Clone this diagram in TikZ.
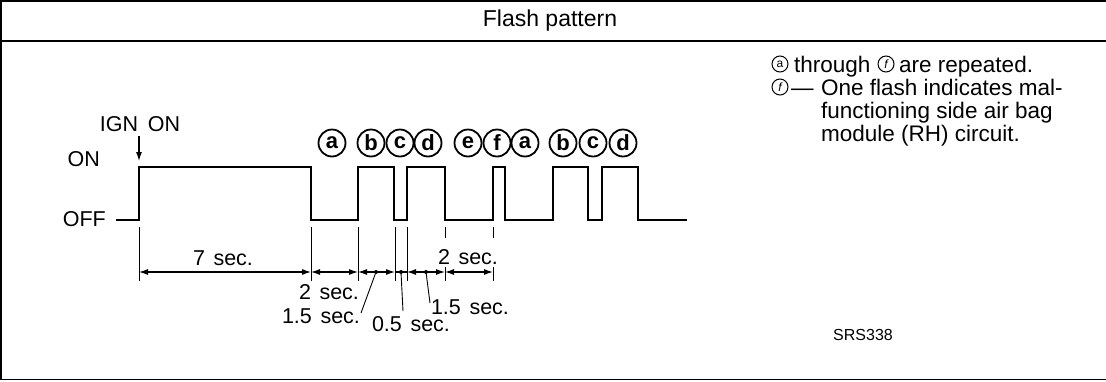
\documentclass[tikz,border=0pt]{standalone}
\usepackage{fontspec}
\setmainfont{Liberation Sans}
\usetikzlibrary{arrows.meta}
\begin{document}
\begin{tikzpicture}[x=1pt,y=-1pt,
  frame/.style={line width=1.6pt},
  wave/.style={line width=2.8pt,line join=miter},
  extline/.style={line width=0.9pt},
  dimline/.style={line width=1.1pt},
  dimarr/.style={dimline,{Latex[length=9pt,width=6pt]}-{Latex[length=9pt,width=6pt]}},
  leader/.style={line width=0.9pt},
  lbl/.style={font=\fontsize{21.5}{24}\selectfont,inner sep=0pt},
  txt/.style={font=\fontsize{22.5}{23}\selectfont,inner sep=0pt,anchor=base west},
  flag/.style={circle,draw,line width=1.8pt,minimum size=27pt,inner sep=0pt,font=\fontsize{22}{22}\selectfont\bfseries},
  sflag/.style={circle,draw,line width=1pt,minimum size=16pt,inner sep=0pt,font=\fontsize{12}{12}\selectfont},
  dot/.style={circle,fill,inner sep=0pt,minimum size=4pt}
]
\useasboundingbox (0,0) rectangle (1106,381);
% frame
\draw[frame] (0,0.8) -- (1106,0.8);
\draw[frame] (1,0) -- (1,379.5) -- (1106,379.5);
\draw[frame] (1,41) -- (1106,41);
\node[font=\fontsize{23}{24}\selectfont,inner sep=0pt] (title) at (550,21) {Flash pattern};

% level labels
\node[lbl,anchor=base east] (on) at (100,166) {ON};
\node[lbl,anchor=base east] (off) at (106,226) {OFF};

% IGN ON
\node[lbl,anchor=base] (ign) at (140,131) {IGN\hspace{0.45em}ON};
\coordinate (ignA) at (139,136);
\coordinate (ignB) at (139,161);
\draw[line width=1.1pt,-{Latex[length=9pt,width=6pt]}] (ignA) -- (ignB);

% waveform
\draw[wave] (116,220) -- (139,220) -- (139,167) -- (311,167) -- (311,220)
  -- (358,220) -- (358,167) -- (394,167) -- (394,220) -- (407,220) -- (407,167)
  -- (445,167) -- (445,220) -- (493,220) -- (493,167) -- (505,167) -- (505,220)
  -- (553,220) -- (553,167) -- (588,167) -- (588,220) -- (602,220) -- (602,167)
  -- (638,167) -- (638,220) -- (687,220);

% circled letters
\node[flag] (fa1) at (332,143) {a};
\node[flag] (fb1) at (371,143) {b};
\node[flag] (fc1) at (400,143) {c};
\node[flag] (fd1) at (428,143) {d};
\node[flag] (fe1) at (468,143) {e};
\node[flag] (ff1) at (497,143) {f};
\node[flag] (fa2) at (525,143) {a};
\node[flag] (fb2) at (563,143) {b};
\node[flag] (fc2) at (593,143) {c};
\node[flag] (fd2) at (623,143) {d};

% extension lines
\foreach \x in {139,311,358,395,407} \draw[extline] (\x,227) -- (\x,281);
\foreach \x in {445,493} {
  \draw[extline] (\x,227) -- (\x,238);
  \draw[extline] (\x,267) -- (\x,281);
}

% dimension lines
\draw[dimarr] (139,272) -- (311,272);
\draw[dimarr] (311,272) -- (358,272);
\draw[dimarr] (358,272) -- (395,272);
\draw[dimline] (395,272) -- (407,272);
\draw[dimarr] (407,272) -- (445,272);
\draw[dimarr] (445,272) -- (493,272);

% dots on dimension line
\node[dot] (d1) at (376,272) {};
\node[dot] (d2) at (401,272) {};
\node[dot] (d3) at (426,272) {};

% dimension labels
\node[lbl,anchor=base] (t7) at (223,265) {7\hspace{0.4em}sec.};
\node[lbl,anchor=base] (t2a) at (468,264) {2\hspace{0.4em}sec.};
\node[lbl,anchor=base] (t2b) at (329,299) {2\hspace{0.4em}sec.};
\node[lbl,anchor=base] (t15a) at (321,323) {1.5\hspace{0.4em}sec.};
\node[lbl,anchor=base] (t05) at (411,331) {0.5\hspace{0.4em}sec.};
\node[lbl,anchor=base] (t15b) at (470,314) {1.5\hspace{0.4em}sec.};

% leaders
\coordinate (l1) at (361,313);
\coordinate (l2) at (403,311);
\coordinate (l3) at (430,303);
\draw[leader] (l1) -- (d1);
\draw[leader] (l2) -- (d2);
\draw[leader] (l3) -- (d3);

% right-hand text
\node[sflag] (sa) at (780,64) {a};
\node[txt] (r1a) at (794,72) {through};
\node[sflag] (sf1) at (886,64) {\itshape f};
\node[txt] (r1b) at (899,72) {are repeated.};
\node[sflag] (sf2) at (780,87) {\itshape f};
\node[txt] (r2a) at (791,95) {—};
\node[txt] (r2) at (821,95) {One flash indicates mal-};
\node[txt] (r3) at (821,118) {functioning side air bag};
\node[txt] (r4) at (821,141) {module (RH) circuit.};

% code
\node[font=\fontsize{16}{16}\selectfont,inner sep=0pt] (code) at (863,335) {SRS338};
\end{tikzpicture}
\end{document}
